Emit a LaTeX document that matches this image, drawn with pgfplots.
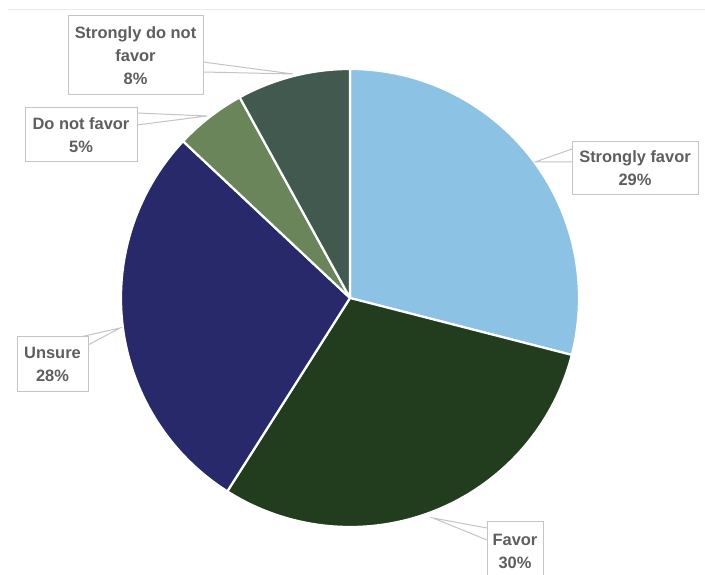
\documentclass[border=0pt]{standalone}
\usepackage{pgfplots}
\pgfplotsset{compat=1.18}
\usepackage{pgfplotstable}
\usepackage{fontspec}
\setmainfont{Liberation Sans}
\definecolor{slice0}{HTML}{8CC2E4}
\definecolor{slice1}{HTML}{223D1E}
\definecolor{slice2}{HTML}{27296A}
\definecolor{slice3}{HTML}{6B855A}
\definecolor{slice4}{HTML}{41594F}
\definecolor{labgray}{HTML}{5E5E5E}
\definecolor{boxgray}{HTML}{C4C4C4}
\tikzset{
  lab/.style={font=\bfseries\fontsize{16.5}{23}\selectfont, text=labgray, align=center},
  box/.style={draw=boxgray, fill=white, line width=1bp},
  ptr/.style={draw=boxgray, fill=white, line width=1bp},
}
\pgfplotstableread[col sep=comma]{
label,value
Strongly favor,29
Favor,30
Unsure,28
Do not favor,5
Strongly do not favor,8
}\piedata
\begin{document}
\begin{tikzpicture}
\def\cum{90}
\pgfplotsforeachungrouped \i in {0,...,4} {%
  \pgfplotstablegetelem{\i}{value}\of\piedata
  \pgfmathsetmacro\endang{\cum - 3.6*\pgfplotsretval}%
  \expandafter\xdef\csname sS\i\endcsname{\cum}%
  \expandafter\xdef\csname sE\i\endcsname{\endang}%
  \xdef\cum{\endang}%
}
\begin{axis}[
  width=705bp, height=575bp, scale only axis,
  xmin=0, xmax=705, ymin=0, ymax=575,
  hide axis,
]
\path (axis cs:0,0) rectangle (axis cs:705,575);
\draw[draw=black!8, line width=1bp] (axis cs:8,565) -- (axis cs:705,565);
\pgfplotsinvokeforeach{0,...,4}{
  \filldraw[draw=white, line width=2.2bp, line join=round, fill=slice#1]
    (axis cs:350,277) -- ([shift={(\csname sS#1\endcsname:229bp)}]axis cs:350,277)
    arc[start angle=\csname sS#1\endcsname, end angle=\csname sE#1\endcsname, radius=229bp] -- cycle;
}
% Strongly do not favor
\filldraw[ptr] (axis cs:203,513) -- (axis cs:293,501) -- (axis cs:203,503);
\filldraw[box] (axis cs:68,559) rectangle (axis cs:203,480);
\node[lab] at (axis cs:135.5,519.5) {Strongly do not\\favor\\8\%};
% Do not favor
\filldraw[ptr] (axis cs:137,462) -- (axis cs:207,459) -- (axis cs:137,450);
\filldraw[box] (axis cs:25,467) rectangle (axis cs:137,413);
\node[lab] at (axis cs:81,440) {Do not favor\\5\%};
% Strongly favor
\filldraw[ptr] (axis cs:572,426) -- (axis cs:535,413) -- (axis cs:572,413);
\filldraw[box] (axis cs:572,433) rectangle (axis cs:698,380);
\node[lab] at (axis cs:635,406.5) {Strongly favor\\29\%};
% Unsure
\filldraw[ptr] (axis cs:88,230) -- (axis cs:120,247) -- (axis cs:80,238);
\filldraw[box] (axis cs:17,238) rectangle (axis cs:88,183);
\node[lab] at (axis cs:52.5,210.5) {Unsure\\28\%};
% Favor
\filldraw[ptr] (axis cs:487,47) -- (axis cs:433,57) -- (axis cs:487,35);
\filldraw[box] (axis cs:487,53) rectangle (axis cs:543,-10);
\node[lab] at (axis cs:515,23.5) {Favor\\30\%};
\end{axis}
\end{tikzpicture}
\end{document}
